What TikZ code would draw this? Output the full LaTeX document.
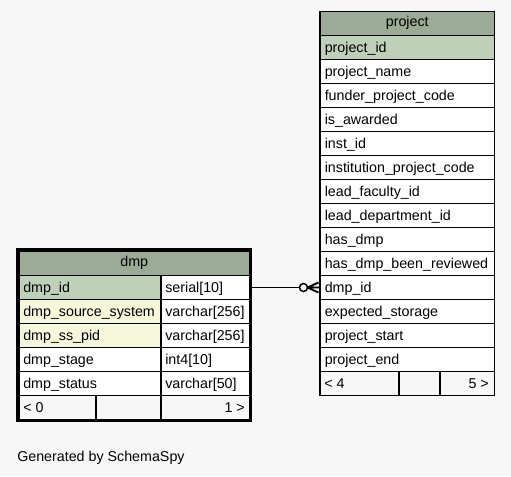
\documentclass[tikz,border=0pt]{standalone}
\usepackage{fontspec}
\setmainfont{Liberation Sans}
\usetikzlibrary{calc}
\definecolor{pagebg}{HTML}{F7F7F7}
\definecolor{headbg}{HTML}{9BAB96}
\definecolor{pkbg}{HTML}{BED1B8}
\definecolor{idxbg}{HTML}{F4F7DA}
\tikzset{
  cellbox/.style={draw=black,line width=1.4pt},
  coltext/.style={anchor=base west,inner sep=0,font=\fontsize{10.7}{12}\selectfont},
  numtext/.style={anchor=base east,inner sep=0,font=\fontsize{10.7}{12}\selectfont},
  headtext/.style={anchor=base,inner sep=0,font=\fontsize{10.7}{12}\selectfont},
  relline/.style={draw=black,line width=1.1pt}
}
\begin{document}
\begin{tikzpicture}[x=0.75pt,y=0.75pt,yscale=-1,xscale=1]
\fill[pagebg] (0,0) rectangle (511,476);

% project
\draw[cellbox,fill=headbg] (320,11.5) rectangle (494.5,35.5);
\node[headtext] (projhead) at (407.25,26.2) {project};
\foreach \col/\bg [count=\k] in {project\_id/pkbg,project\_name/white,funder\_project\_code/white,
  is\_awarded/white,inst\_id/white,institution\_project\_code/white,lead\_faculty\_id/white,
  lead\_department\_id/white,has\_dmp/white,has\_dmp\_been\_reviewed/white,dmp\_id/white,
  expected\_storage/white,project\_start/white,project\_end/white}{
  \pgfmathsetmacro\rowtop{11.5+24*\k}
  \draw[cellbox,fill=\bg] (320,\rowtop) rectangle (494.5,\rowtop+24);
  \node[coltext] (p\k) at (324.5,\rowtop+16.5) {\col};
}
\draw[cellbox,fill=pagebg] (320,371.5) rectangle (399,395.5);
\draw[cellbox,fill=pagebg] (399,371.5) rectangle (440,395.5);
\draw[cellbox,fill=pagebg] (440,371.5) rectangle (494.5,395.5);
\node[coltext] (pprev) at (324,388) {< 4};
\node[numtext] (pnext) at (489,388) {5 >};

% dmp
\draw[cellbox,fill=headbg] (19,251.5) rectangle (249.5,275.5);
\node[headtext] (dmphead) at (134.25,266.7) {dmp};
\foreach \col/\kind/\bg [count=\k] in {dmp\_id/serial[10]/pkbg,dmp\_source\_system/varchar[256]/idxbg,
  dmp\_ss\_pid/varchar[256]/idxbg,dmp\_stage/int4[10]/white,dmp\_status/varchar[50]/white}{
  \pgfmathsetmacro\rowtop{251.5+24*\k}
  \draw[cellbox,fill=\bg] (19,\rowtop) rectangle (161,\rowtop+24);
  \draw[cellbox,fill=white] (161,\rowtop) rectangle (249.5,\rowtop+24);
  \node[coltext] (d\k) at (23,\rowtop+16.5) {\col};
  \node[coltext] (d\k t) at (165,\rowtop+16.5) {\kind};
}
\draw[cellbox,fill=pagebg] (19,395.5) rectangle (96,419.5);
\draw[cellbox,fill=pagebg] (96,395.5) rectangle (161,419.5);
\draw[cellbox,fill=pagebg] (161,395.5) rectangle (249.5,419.5);
\node[coltext] (dprev) at (23,412) {< 0};
\node[numtext] (dnext) at (245,412) {1 >};
\draw[line width=2pt] (17.7,249.7) rectangle (250.7,420.2);

% dmp.dmp_id -> project.dmp_id
\coordinate (dmpfk) at (250.7,287.5);
\coordinate (projfk) at (319.5,287.5);
\draw[relline] (dmpfk) -- ($(projfk)+(-20,0)$);
\draw[relline] ($(projfk)+(-16,0)$) circle[radius=4];
\draw[relline,line width=1.4pt] ($(projfk)+(-12,0)$) -- ($(projfk)+(-1,-5)$)
  ($(projfk)+(-12,0)$) -- (projfk)
  ($(projfk)+(-12,0)$) -- ($(projfk)+(-1,5)$);

\node[coltext] (credit) at (17,461.5) {Generated by SchemaSpy};
\end{tikzpicture}
\end{document}
